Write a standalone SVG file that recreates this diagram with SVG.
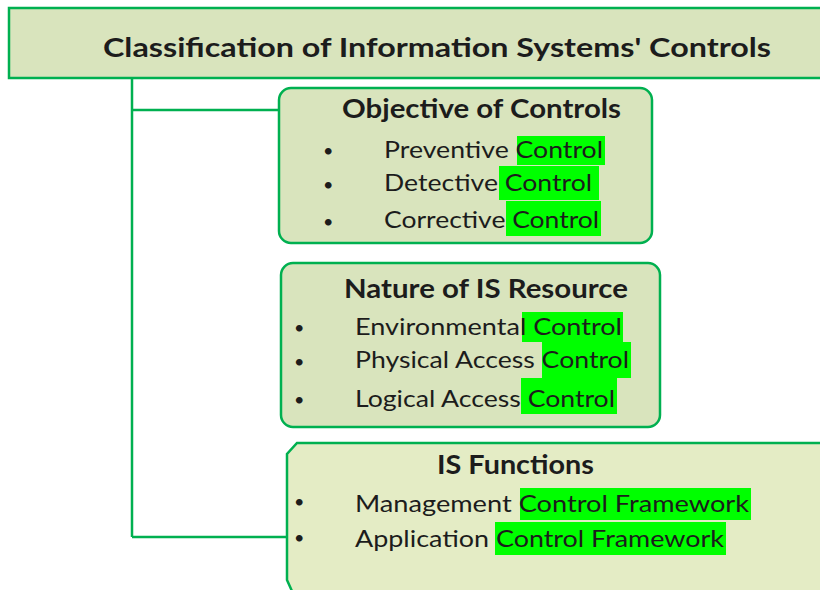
<svg xmlns="http://www.w3.org/2000/svg" width="820" height="590" viewBox="0 0 820 590">
<style>
.box{fill:#d9e4bd;stroke:#00b050;stroke-width:2.5}
.box3{fill:#e4ecc5;stroke:#00b050;stroke-width:2.5}
.conn{fill:none;stroke:#00b050;stroke-width:2.5}
.hl{fill:#00ff00}
.t{font-family:Lato,"Open Sans","Liberation Sans",sans-serif;fill:#1c1c1c}
.h{font-weight:bold;font-size:27px}
.i{font-size:24px}
.b{font-size:18px}
</style>
<rect width="820" height="590" fill="#ffffff"/>
<g id="connectors">
<path class="conn" d="M132,78 V537 M132,110 H279 M132,537 H287"/>
</g>
<g id="title">
<rect class="box" x="9" y="8" width="830" height="70"/>
<text class="t h" x="103" y="57" font-size="29" textLength="668" lengthAdjust="spacingAndGlyphs">Classification of Information Systems' Controls</text>
</g>
<g id="objective">
<rect class="box" x="279" y="88" width="373" height="155" rx="12"/>
<text class="t h" x="342" y="118" textLength="279" lengthAdjust="spacingAndGlyphs">Objective of Controls</text>
<rect class="hl" x="517" y="136" width="88" height="29"/>
<rect class="hl" x="499" y="166" width="100" height="34"/>
<rect class="hl" x="506" y="201" width="95" height="35"/>
<text class="t b" x="323" y="157">•</text>
<text class="t b" x="323" y="191">•</text>
<text class="t b" x="323" y="228">•</text>
<text class="t i" x="384" y="158" textLength="219" lengthAdjust="spacingAndGlyphs">Preventive Control</text>
<text class="t i" x="384" y="191" textLength="208" lengthAdjust="spacingAndGlyphs">Detective Control</text>
<text class="t i" x="384" y="228" textLength="215" lengthAdjust="spacingAndGlyphs">Corrective Control</text>
</g>
<g id="nature">
<rect class="box" x="281" y="263" width="379" height="164" rx="12"/>
<text class="t h" x="344" y="298" textLength="284" lengthAdjust="spacingAndGlyphs">Nature of IS Resource</text>
<rect class="hl" x="522" y="312" width="101" height="30"/>
<rect class="hl" x="542" y="342" width="89" height="36"/>
<rect class="hl" x="521" y="378" width="96" height="36"/>
<text class="t b" x="294" y="334">•</text>
<text class="t b" x="294" y="368">•</text>
<text class="t b" x="294" y="406">•</text>
<text class="t i" x="355" y="335" textLength="267" lengthAdjust="spacingAndGlyphs">Environmental Control</text>
<text class="t i" x="355" y="368" textLength="274" lengthAdjust="spacingAndGlyphs">Physical Access Control</text>
<text class="t i" x="355" y="407" textLength="260" lengthAdjust="spacingAndGlyphs">Logical Access Control</text>
</g>
<g id="functions">
<path class="box3" d="M297,443 H840 V600 H296 L287,580 V454 Z"/>
<text class="t h" x="437" y="474" textLength="157" lengthAdjust="spacingAndGlyphs">IS Functions</text>
<rect class="hl" x="520" y="488" width="231" height="32"/>
<rect class="hl" x="495" y="522" width="231" height="33"/>
<text class="t b" x="294" y="508">•</text>
<text class="t b" x="294" y="544">•</text>
<text class="t i" x="355" y="512" textLength="394" lengthAdjust="spacingAndGlyphs">Management Control Framework</text>
<text class="t i" x="355" y="547" textLength="369" lengthAdjust="spacingAndGlyphs">Application Control Framework</text>
</g>
</svg>
